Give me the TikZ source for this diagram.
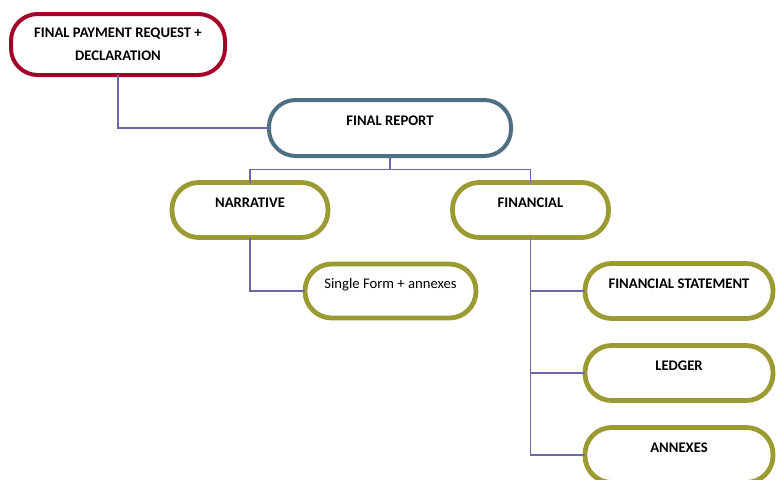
\documentclass[tikz,border=0pt]{standalone}
\usepackage{fontspec}
\setmainfont{Carlito}
\definecolor{crimson}{HTML}{A50029}
\definecolor{slate}{HTML}{4D6F82}
\definecolor{olive}{HTML}{9B9A33}
\definecolor{lilac}{HTML}{6E66A8}
\tikzstyle{bag} = [rectangle, rounded corners=20pt, fill=white, inner sep=0pt, outer sep=0pt,
  font=\bfseries\fontsize{11}{17}\selectfont, text height=8pt, text depth=12.2pt]
\tikzstyle{redbag} = [bag, draw=crimson, line width=3pt, minimum width=160.5pt, minimum height=45.75pt,
  align=center, text height=, text depth=]
\tikzstyle{bluebag} = [bag, draw=slate, line width=3pt, minimum width=181.5pt, minimum height=42pt]
\tikzstyle{olivebag} = [bag, draw=olive, line width=3.6pt, minimum width=117pt, minimum height=41.25pt]
\tikzstyle{leaf} = [olivebag, minimum width=141pt]
\tikzstyle{link} = [draw=lilac, line width=1.1pt]

\begin{document}
\begin{tikzpicture}[x=0.75pt, y=-0.75pt]
		\useasboundingbox (0,0) rectangle (778,479);
		\clip (0,0) rectangle (778,479);
		% boxes
		\node[redbag] (pay) at (118,44.5) {FINAL PAYMENT REQUEST +\\DECLARATION};
		\node[bluebag] (report) at (390,128) {FINAL REPORT};
		\node[olivebag] (narr) at (250,210) {NARRATIVE};
		\node[olivebag] (fin) at (530.5,210) {FINANCIAL};
		\node[olivebag, minimum width=128.25pt, minimum height=40.5pt, font=\fontsize{11}{17}\selectfont] (single) at (390.5,291) {Single Form + annexes};
		\node[leaf] (stmt) at (679,291) {FINANCIAL STATEMENT};
		\node[leaf] (ledger) at (679,373) {LEDGER};
		\node[leaf] (annex) at (679,455) {ANNEXES};
		% connectors
		\coordinate (fork) at (390,169.5);
		\draw[link] (pay.south) |- (report.west);
		\draw[link] (report.south) -- (fork) -| (narr.north);
		\draw[link] (fork) -| (fin.north);
		\draw[link] (narr.south) |- (single.west);
		\draw[link] (fin.south) |- (stmt.west);
		\draw[link] (fin.south) |- (ledger.west);
		\draw[link] (fin.south) |- (annex.west);
\end{tikzpicture}
\end{document}
